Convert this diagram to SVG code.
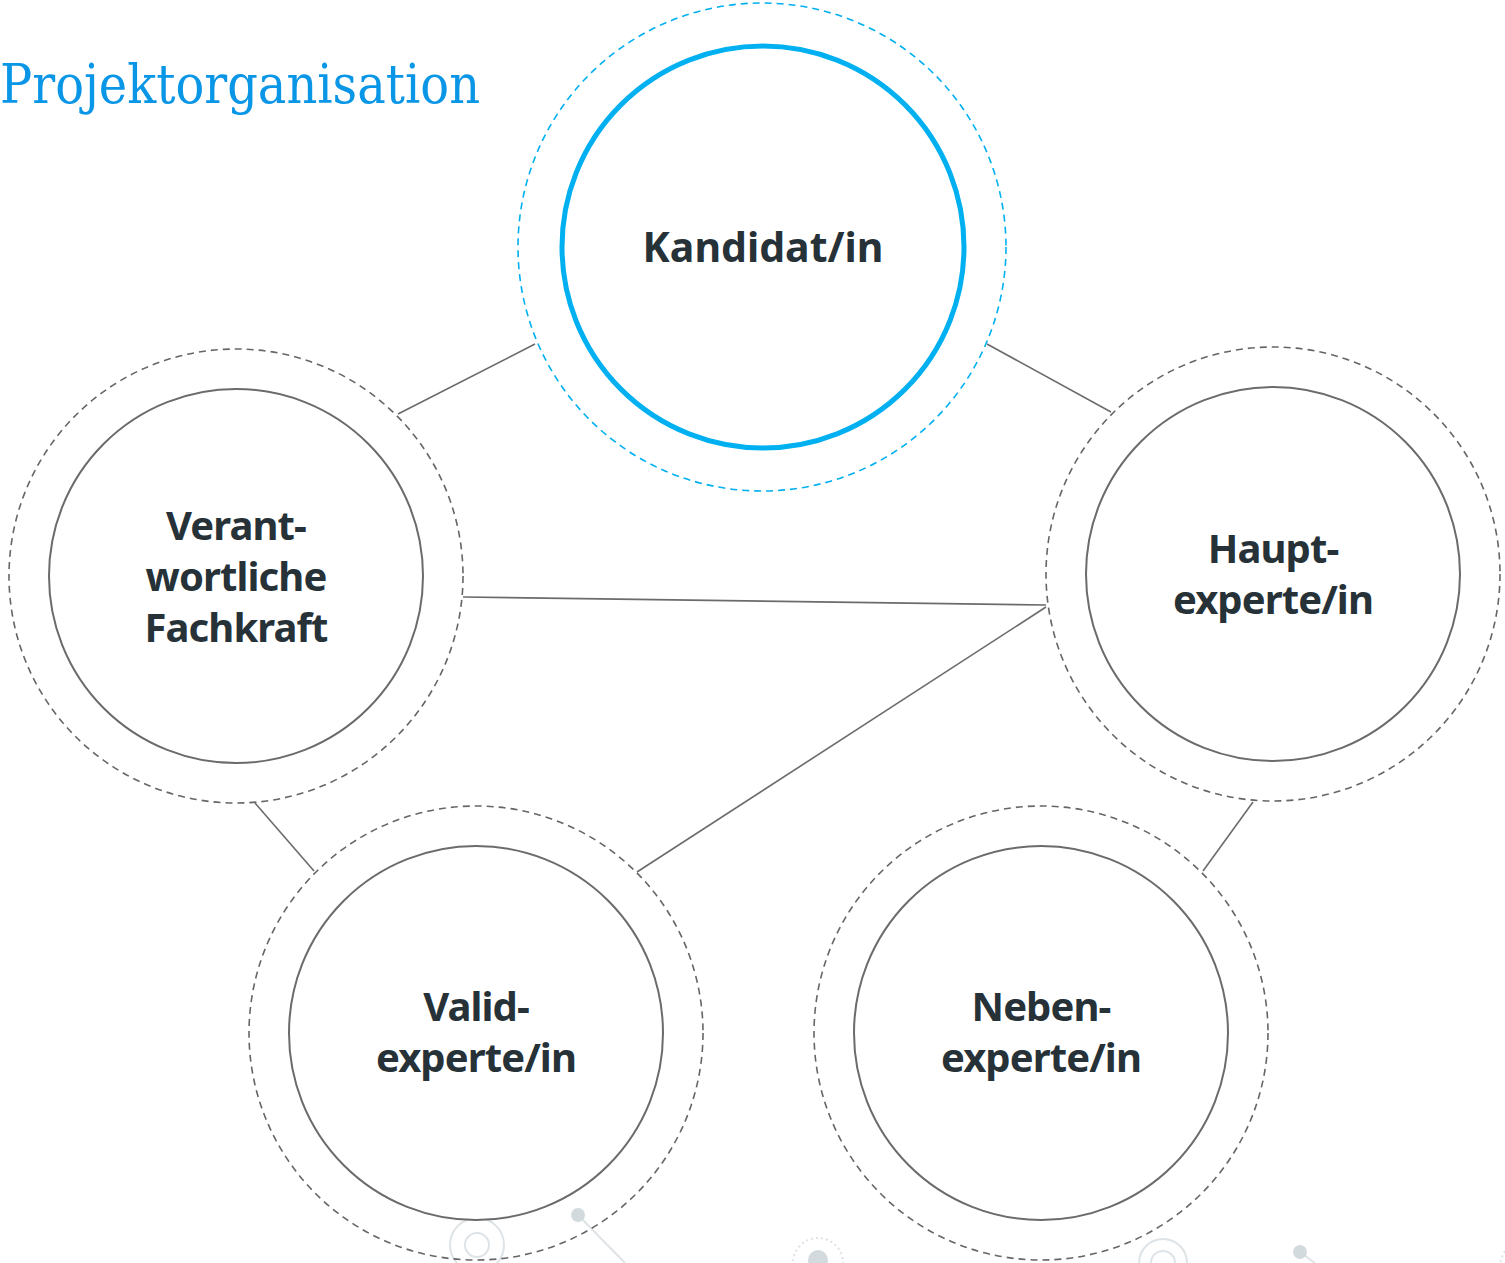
<svg xmlns="http://www.w3.org/2000/svg" width="1505" height="1263" viewBox="0 0 1505 1263">
<style>
.bg{fill:#ffffff}
.inner{fill:#ffffff;stroke:#6b6b6b;stroke-width:2}
.outer{fill:none;stroke:#666666;stroke-width:1.6;stroke-dasharray:7 5}
.main{fill:#ffffff;stroke:#00b0f0;stroke-width:5}
.mainouter{fill:none;stroke:#00b0f0;stroke-width:1.6;stroke-dasharray:7 5}
.lbl{font-family:"Noto Sans","Open Sans",sans-serif;font-weight:bold;font-size:40px;fill:#263238;text-anchor:middle;letter-spacing:-0.9px}
.big{font-size:41px;letter-spacing:0px}
.conn{stroke:#6b6b6b;stroke-width:1.6;fill:none}
.deco{fill:none;stroke:#dde3e6;stroke-width:2}
.decodot{fill:#d3dadd}
.title{font-family:"DejaVu Serif","Liberation Serif",serif;font-size:55px;fill:#0a96e6}
</style>
<rect class="bg" x="0" y="0" width="1505" height="1263"/>
<g id="decorations">
<circle class="deco" cx="477" cy="1245" r="27"/>
<circle class="deco" cx="477" cy="1245" r="12"/>
<line class="deco" x1="578" y1="1215" x2="625" y2="1263"/>
<circle class="decodot" cx="578" cy="1215" r="7"/>
<circle class="deco" cx="818" cy="1263" r="25" stroke-dasharray="2 3"/>
<circle class="decodot" cx="818" cy="1260" r="10"/>
<circle class="deco" cx="1163" cy="1263" r="24"/>
<circle class="deco" cx="1163" cy="1263" r="12"/>
<line class="deco" x1="1300" y1="1252" x2="1315" y2="1263"/>
<circle class="decodot" cx="1300" cy="1252" r="7"/>
<circle class="deco" cx="1530" cy="1268" r="30" stroke-dasharray="2 3"/>
</g>
<text class="title" x="0" y="103" textLength="480" lengthAdjust="spacingAndGlyphs">Projektorganisation</text>
<g id="connectors">
<line class="conn" x1="398" y1="414" x2="535" y2="344"/>
<line class="conn" x1="987" y1="344" x2="1111" y2="412"/>
<line class="conn" x1="463" y1="597" x2="1046" y2="605"/>
<line class="conn" x1="1046" y1="607" x2="637" y2="872"/>
<line class="conn" x1="255" y1="803" x2="314" y2="871"/>
<line class="conn" x1="1253" y1="802" x2="1203" y2="871"/>
</g>
<g id="kandidat">
<circle class="mainouter" cx="762" cy="247" r="244"/>
<circle class="main" cx="763" cy="247" r="201"/>
<text class="lbl big" x="763" y="262">Kandidat/in</text>
</g>
<g id="fachkraft">
<circle class="outer" cx="236" cy="576" r="227"/>
<circle class="inner" cx="236" cy="576" r="187"/>
<text class="lbl" x="236" y="540">Verant-</text>
<text class="lbl" x="236" y="591">wortliche</text>
<text class="lbl" x="236" y="642">Fachkraft</text>
</g>
<g id="hauptexperte">
<circle class="outer" cx="1273" cy="574" r="227"/>
<circle class="inner" cx="1273" cy="574" r="187"/>
<text class="lbl" x="1273" y="563">Haupt-</text>
<text class="lbl" x="1273" y="614">experte/in</text>
</g>
<g id="validexperte">
<circle class="outer" cx="476" cy="1033" r="227"/>
<circle class="inner" cx="476" cy="1033" r="187"/>
<text class="lbl" x="476" y="1021">Valid-</text>
<text class="lbl" x="476" y="1072">experte/in</text>
</g>
<g id="nebenexperte">
<circle class="outer" cx="1041" cy="1033" r="227"/>
<circle class="inner" cx="1041" cy="1033" r="187"/>
<text class="lbl" x="1041" y="1021">Neben-</text>
<text class="lbl" x="1041" y="1072">experte/in</text>
</g>
</svg>
